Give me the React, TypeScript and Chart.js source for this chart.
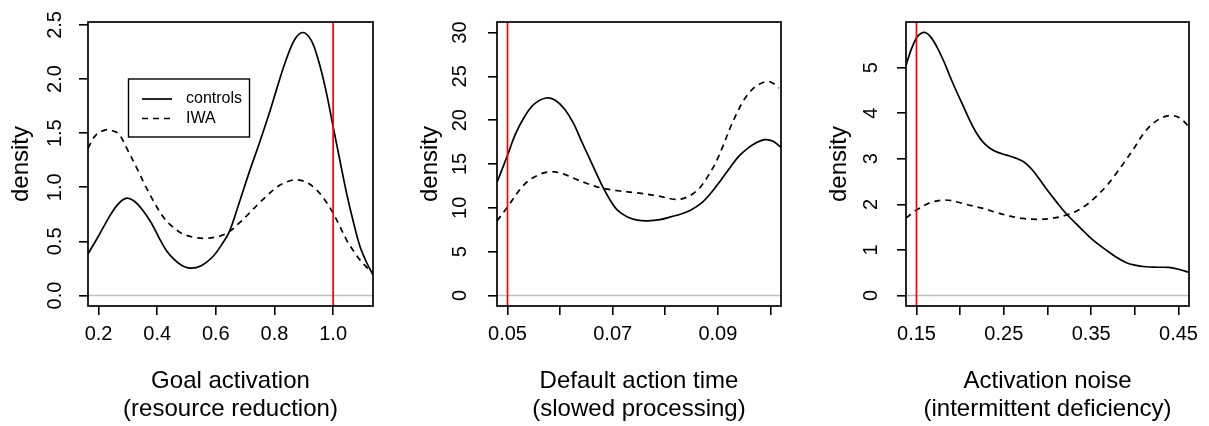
import React, { useEffect, useRef } from 'react';
import { Chart, registerables } from 'chart.js';

Chart.register(...registerables);

const FONT = '"Liberation Sans", Arial, Helvetica, sans-serif';

// ---------- Panel 1: Goal activation ----------
const P1_CONTROLS_X = [0.164, 0.2, 0.235, 0.265, 0.293, 0.32, 0.35, 0.38, 0.405, 0.43, 0.455, 0.48, 0.512, 0.55, 0.59, 0.62, 0.646, 0.68, 0.714, 0.75, 0.783, 0.81, 0.84, 0.87, 0.897, 0.925, 0.949, 0.975, 1.0, 1.023, 1.046, 1.07, 1.092, 1.115, 1.136];
const P1_CONTROLS_Y = [0.385, 0.55, 0.72, 0.84, 0.898, 0.875, 0.79, 0.67, 0.54, 0.42, 0.34, 0.285, 0.253, 0.275, 0.36, 0.47, 0.59, 0.86, 1.14, 1.42, 1.69, 1.93, 2.18, 2.37, 2.43, 2.36, 2.18, 1.9, 1.56, 1.25, 0.944, 0.67, 0.45, 0.3, 0.19];
const P1_IWA_X = [0.164, 0.19, 0.224, 0.25, 0.27, 0.3, 0.33, 0.361, 0.39, 0.418, 0.45, 0.487, 0.53, 0.567, 0.6, 0.62, 0.646, 0.68, 0.714, 0.75, 0.783, 0.81, 0.85, 0.88, 0.91, 0.94, 0.97, 1.0, 1.023, 1.046, 1.07, 1.092, 1.115, 1.136];
const P1_IWA_Y = [1.36, 1.48, 1.53, 1.52, 1.49, 1.34, 1.18, 1.006, 0.86, 0.735, 0.64, 0.57, 0.535, 0.528, 0.54, 0.555, 0.59, 0.67, 0.76, 0.86, 0.944, 1.005, 1.058, 1.068, 1.045, 0.985, 0.89, 0.76, 0.64, 0.512, 0.41, 0.327, 0.26, 0.21];
const P1_X_TICKS = [0.2, 0.4, 0.6, 0.8, 1.0];
const P1_X_LABELS = ['0.2', '0.4', '0.6', '0.8', '1.0'];
const P1_Y_TICKS = [0, 0.5, 1.0, 1.5, 2.0, 2.5];
const P1_Y_LABELS = ['0.0', '0.5', '1.0', '1.5', '2.0', '2.5'];

// ---------- Panel 2: Default action time ----------
const P2_CONTROLS_X = [0.048, 0.05, 0.0515, 0.0532, 0.055, 0.0573, 0.059, 0.0608, 0.0625, 0.064, 0.066, 0.0678, 0.0695, 0.0709, 0.0728, 0.0747, 0.0766, 0.079, 0.081, 0.083, 0.0848, 0.0868, 0.0886, 0.0905, 0.0924, 0.094, 0.0956, 0.0972, 0.0989, 0.1005, 0.102];
const P2_CONTROLS_Y = [12.9, 16.0, 18.4, 20.37, 21.8, 22.53, 22.3, 21.3, 19.7, 17.7, 15.1, 12.77, 10.9, 9.73, 8.95, 8.59, 8.51, 8.65, 8.97, 9.3, 9.73, 10.5, 11.63, 13.1, 14.67, 15.9, 16.76, 17.4, 17.78, 17.6, 16.9];
const P2_IWA_X = [0.048, 0.05, 0.0525, 0.054, 0.0557, 0.0573, 0.0589, 0.0607, 0.0627, 0.065, 0.0678, 0.071, 0.0747, 0.0785, 0.0816, 0.083, 0.0842, 0.0855, 0.0867, 0.088, 0.0895, 0.091, 0.0924, 0.0937, 0.0949, 0.0962, 0.0975, 0.0994, 0.1005, 0.1016];
const P2_IWA_Y = [8.5, 10.1, 12.2, 13.1, 13.7, 14.05, 14.1, 13.85, 13.34, 12.8, 12.27, 11.95, 11.7, 11.36, 10.98, 11.0, 11.25, 11.7, 12.38, 13.5, 15.05, 17.1, 19.22, 20.9, 22.27, 23.3, 23.98, 24.43, 24.2, 23.67];
const P2_X_TICKS = [0.05, 0.06, 0.07, 0.08, 0.09, 0.1];
const P2_X_LABELS = ['0.05', '', '0.07', '', '0.09', ''];
const P2_Y_TICKS = [0, 5, 10, 15, 20, 25, 30];
const P2_Y_LABELS = ['0', '5', '10', '15', '20', '25', '30'];

// ---------- Panel 3: Activation noise ----------
const P3_CONTROLS_X = [0.1382, 0.144, 0.15, 0.155, 0.1599, 0.166, 0.1732, 0.181, 0.1885, 0.196, 0.2037, 0.211, 0.2188, 0.226, 0.2341, 0.243, 0.2531, 0.263, 0.2722, 0.28, 0.2874, 0.2935, 0.299, 0.31, 0.3212, 0.333, 0.3441, 0.355, 0.3669, 0.378, 0.3897, 0.4, 0.4126, 0.426, 0.4392, 0.451, 0.462];
const P3_CONTROLS_Y = [5.06, 5.4, 5.65, 5.75, 5.77, 5.68, 5.46, 5.15, 4.8, 4.47, 4.15, 3.84, 3.56, 3.37, 3.23, 3.14, 3.08, 3.02, 2.94, 2.81, 2.64, 2.48, 2.33, 2.06, 1.8, 1.57, 1.36, 1.17, 1.0, 0.85, 0.725, 0.665, 0.63, 0.62, 0.615, 0.57, 0.505];
const P3_IWA_X = [0.1382, 0.144, 0.15, 0.1656, 0.1828, 0.1999, 0.213, 0.2265, 0.24, 0.2569, 0.272, 0.2874, 0.304, 0.3212, 0.333, 0.3441, 0.355, 0.3669, 0.378, 0.3897, 0.4, 0.4088, 0.416, 0.424, 0.432, 0.4411, 0.451, 0.4602, 0.462];
const P3_IWA_Y = [1.7, 1.79, 1.875, 2.035, 2.095, 2.035, 1.97, 1.91, 1.83, 1.74, 1.69, 1.67, 1.69, 1.76, 1.85, 1.98, 2.16, 2.39, 2.66, 2.97, 3.26, 3.52, 3.69, 3.82, 3.91, 3.95, 3.9, 3.74, 3.7];
const P3_X_TICKS = [0.15, 0.2, 0.25, 0.3, 0.35, 0.4, 0.45];
const P3_X_LABELS = ['0.15', '', '0.25', '', '0.35', '', '0.45'];
const P3_Y_TICKS = [0, 1, 2, 3, 4, 5];
const P3_Y_LABELS = ['0', '1', '2', '3', '4', '5'];

const REFERENCE_X = [1.0, 0.05, 0.15];
const X_LIMITS = [[0.164, 1.136], [0.048, 0.102], [0.138, 0.462]];
const Y_LIMITS = [[-0.0972, 2.5272], [-1.2, 31.2], [-0.2308, 6.0008]];
const X_TITLES = [
  ['Goal activation', '(resource reduction)'],
  ['Default action time', '(slowed processing)'],
  ['Activation noise', '(intermittent deficiency)'],
];
const SERIES_NAMES = ['controls', 'IWA'];

type PanelSpec = {
  left: number;
  padRight: number;
  yTickPad: number;
  cx: number[]; cy: number[]; ix: number[]; iy: number[];
  xTicks: number[]; xLabels: string[]; yTicks: number[]; yLabels: string[];
  refX: number; xLim: number[]; yLim: number[]; xTitle: string[];
  legend: boolean;
};

const PANELS: PanelSpec[] = [
  { left: 0, padRight: 17, yTickPad: 9.6, cx: P1_CONTROLS_X, cy: P1_CONTROLS_Y, ix: P1_IWA_X, iy: P1_IWA_Y,
    xTicks: P1_X_TICKS, xLabels: P1_X_LABELS, yTicks: P1_Y_TICKS, yLabels: P1_Y_LABELS,
    refX: REFERENCE_X[0], xLim: X_LIMITS[0], yLim: Y_LIMITS[0], xTitle: X_TITLES[0], legend: true },
  { left: 409, padRight: 18, yTickPad: 16.4, cx: P2_CONTROLS_X, cy: P2_CONTROLS_Y, ix: P2_IWA_X, iy: P2_IWA_Y,
    xTicks: P2_X_TICKS, xLabels: P2_X_LABELS, yTicks: P2_Y_TICKS, yLabels: P2_Y_LABELS,
    refX: REFERENCE_X[1], xLim: X_LIMITS[1], yLim: Y_LIMITS[1], xTitle: X_TITLES[1], legend: false },
  { left: 818, padRight: 19, yTickPad: 19.6, cx: P3_CONTROLS_X, cy: P3_CONTROLS_Y, ix: P3_IWA_X, iy: P3_IWA_Y,
    xTicks: P3_X_TICKS, xLabels: P3_X_LABELS, yTicks: P3_Y_TICKS, yLabels: P3_Y_LABELS,
    refX: REFERENCE_X[2], xLim: X_LIMITS[2], yLim: Y_LIMITS[2], xTitle: X_TITLES[2], legend: false },
];

const CANVAS_W = 390;
const CANVAS_H = 426;
const LINE_W = 1.7;
const DASH = [6, 5];

const boxPlugin = {
  id: 'rbox',
  afterDatasetsDraw(chart: any) {
    const { ctx, chartArea: a } = chart;
    ctx.save();
    ctx.strokeStyle = '#000';
    ctx.lineWidth = 1.7;
    ctx.strokeRect(a.left, a.top, a.right - a.left, a.bottom - a.top);
    ctx.restore();
  },
};

const legendPlugin = {
  id: 'rlegend',
  afterDraw(chart: any, _args: any, opts: any) {
    if (!opts || !opts.show) return;
    const { ctx, chartArea: a } = chart;
    const bx = a.left + 40.5;
    const by = a.top + 57;
    const bw = 121;
    const bh = 58;
    ctx.save();
    ctx.fillStyle = '#fff';
    ctx.fillRect(bx, by, bw, bh);
    ctx.strokeStyle = '#000';
    ctx.lineWidth = 1.4;
    ctx.strokeRect(bx, by, bw, bh);
    const rows = [
      { label: SERIES_NAMES[0], dash: [] as number[], y: by + 20 },
      { label: SERIES_NAMES[1], dash: DASH, y: by + 39.5 },
    ];
    ctx.font = `16px ${FONT}`;
    ctx.textBaseline = 'middle';
    ctx.textAlign = 'left';
    for (const r of rows) {
      ctx.beginPath();
      ctx.setLineDash(r.dash);
      ctx.lineWidth = LINE_W;
      ctx.moveTo(bx + 13.5, r.y);
      ctx.lineTo(bx + 43.5, r.y);
      ctx.stroke();
      ctx.setLineDash([]);
      ctx.fillStyle = '#000';
      ctx.fillText(r.label, bx + 57.5, r.y);
    }
    ctx.restore();
  },
};

function Panel({ spec }: { spec: PanelSpec }) {
  const ref = useRef<HTMLCanvasElement | null>(null);
  useEffect(() => {
    if (!ref.current) return;
    const toPts = (xs: number[], ys: number[]) => xs.map((x, i) => ({ x, y: ys[i] }));
    const lineBase = { pointRadius: 0, borderWidth: LINE_W, fill: false, tension: 0.35 };
    const chart = new Chart(ref.current, {
      type: 'line',
      data: {
        datasets: [
          { ...lineBase, tension: 0, label: 'ref', data: [{ x: spec.refX, y: spec.yLim[0] }, { x: spec.refX, y: spec.yLim[1] }], borderColor: '#ff0000', order: 0 },
          { ...lineBase, label: SERIES_NAMES[1], data: toPts(spec.ix, spec.iy), borderColor: '#000', borderDash: DASH, order: 1 },
          { ...lineBase, label: SERIES_NAMES[0], data: toPts(spec.cx, spec.cy), borderColor: '#000', order: 2 },
          { ...lineBase, tension: 0, label: 'zero', data: [{ x: spec.xLim[0], y: 0 }, { x: spec.xLim[1], y: 0 }], borderColor: '#bebebe', borderWidth: 1.5, order: 3 },
        ] as any,
      },
      options: {
        animation: false,
        responsive: false,
        maintainAspectRatio: false,
        events: [],
        layout: { padding: { left: 0, top: 22, right: spec.padRight, bottom: 0 } },
        plugins: {
          legend: { display: false },
          tooltip: { enabled: false },
          rlegend: { show: spec.legend },
        } as any,
        scales: {
          x: {
            type: 'linear',
            min: spec.xLim[0],
            max: spec.xLim[1],
            afterBuildTicks: (s: any) => { s.ticks = spec.xTicks.map((v) => ({ value: v })); },
            afterFit: (s: any) => { s.height = 120; s.paddingLeft = 0; s.paddingRight = 0; s.paddingTop = 0; s.paddingBottom = 0; },
            ticks: {
              callback: (_v: any, i: number) => spec.xLabels[i],
              autoSkip: false, maxRotation: 0, minRotation: 0, padding: 7,
              font: { family: FONT, size: 20 }, color: '#000',
            },
            grid: { drawOnChartArea: false, drawTicks: true, tickLength: 9, color: '#000', lineWidth: 1.6 },
            border: { display: false },
            title: {
              display: true, text: spec.xTitle, color: '#000',
              font: { family: FONT, size: 24, lineHeight: 28 / 24 },
              padding: { top: 0, bottom: 2.5 },
            },
          },
          y: {
            type: 'linear',
            min: spec.yLim[0],
            max: spec.yLim[1],
            afterBuildTicks: (s: any) => { s.ticks = spec.yTicks.map((v) => ({ value: v })); },
            afterFit: (s: any) => { s.width = 88; s.paddingLeft = 0; s.paddingRight = 0; s.paddingTop = 0; s.paddingBottom = 0; },
            ticks: {
              callback: (_v: any, i: number) => spec.yLabels[i],
              autoSkip: false, minRotation: 90, maxRotation: 90, crossAlign: 'center', padding: spec.yTickPad,
              font: { family: FONT, size: 20 }, color: '#000',
            },
            grid: { drawOnChartArea: false, drawTicks: true, tickLength: 9, color: '#000', lineWidth: 1.6 },
            border: { display: false },
            title: {
              display: true, text: 'density', color: '#000',
              font: { family: FONT, size: 24, lineHeight: 1.2 },
              padding: { top: 7, bottom: 0 },
            },
          },
        },
      } as any,
      plugins: [boxPlugin, legendPlugin],
    });
    return () => chart.destroy();
  }, [spec]);
  return (
    <canvas
      ref={ref}
      width={CANVAS_W}
      height={CANVAS_H}
      style={{ position: 'absolute', left: spec.left, top: 0, width: CANVAS_W, height: CANVAS_H, display: 'block' }}
    />
  );
}

export default function App() {
  return (
    <div style={{ position: 'absolute', left: 0, top: 0, width: 1209, height: 426, background: '#fff', overflow: 'hidden' }}>
      {PANELS.map((p, i) => (
        <Panel key={i} spec={p} />
      ))}
    </div>
  );
}
